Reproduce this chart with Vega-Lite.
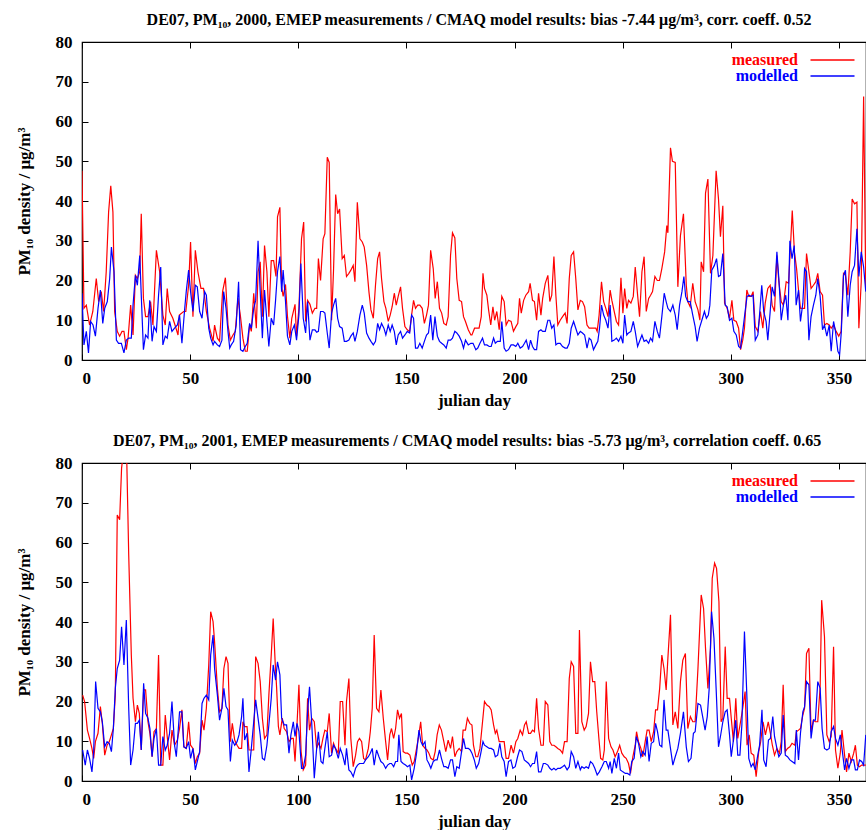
{
"$schema": "https://vega.github.io/schema/vega-lite/v6.json",
"padding": {"left": 14, "top": 11, "right": 0, "bottom": 0},
"spacing": 23,
"datasets": {
"m2000": [{"d":0,"v":47.6},{"d":0.9,"v":13},{"d":2,"v":13.8},{"d":3.5,"v":8.8},{"d":5,"v":12.2},{"d":6.6,"v":20.5},{"d":7.7,"v":14.7},{"d":8.9,"v":17.2},{"d":10,"v":12.2},{"d":11.2,"v":22.2},{"d":12.3,"v":37.2},{"d":13.3,"v":43.8},{"d":14.3,"v":37.2},{"d":15.1,"v":12.2},{"d":16.3,"v":7.2},{"d":17.4,"v":6},{"d":18.5,"v":7.2},{"d":19.4,"v":7.2},{"d":20.5,"v":2.6},{"d":21.3,"v":5.5},{"d":22.5,"v":13.8},{"d":23.6,"v":6.3},{"d":24.7,"v":21.3},{"d":25.6,"v":20.5},{"d":26.7,"v":22.2},{"d":27.4,"v":36.8},{"d":28.4,"v":15.5},{"d":29.4,"v":10.9},{"d":30.5,"v":10.9},{"d":31.7,"v":14.7},{"d":32.8,"v":8.8},{"d":34.4,"v":27.6},{"d":35.9,"v":22.2},{"d":37.4,"v":11.3},{"d":38.5,"v":8.8},{"d":39.4,"v":18},{"d":40.5,"v":12.2},{"d":42,"v":10.5},{"d":43,"v":8.8},{"d":44.4,"v":6.3},{"d":45,"v":11.3},{"d":47,"v":12.2},{"d":48,"v":12.2},{"d":49.3,"v":18.8},{"d":50.2,"v":29.7},{"d":51.3,"v":10.9},{"d":52.4,"v":27.6},{"d":53.6,"v":22.2},{"d":55,"v":18},{"d":56.2,"v":18},{"d":57.5,"v":12.2},{"d":59,"v":8},{"d":60.6,"v":4.7},{"d":61.3,"v":8.8},{"d":62.6,"v":5.5},{"d":63.6,"v":4.7},{"d":65,"v":17.2},{"d":66.3,"v":20.7},{"d":67.5,"v":8.8},{"d":68.6,"v":5},{"d":69.8,"v":6.3},{"d":70.9,"v":7.2},{"d":72.1,"v":15.5},{"d":73.2,"v":11.3},{"d":74.4,"v":5.5},{"d":75.5,"v":2.2},{"d":76.4,"v":2.2},{"d":77.5,"v":8.8},{"d":78.3,"v":7.2},{"d":79.4,"v":16.8},{"d":80.6,"v":8},{"d":81.4,"v":22.2},{"d":82.4,"v":24.7},{"d":83.4,"v":10.9},{"d":84.4,"v":28.8},{"d":85.5,"v":22.2},{"d":86.4,"v":10.9},{"d":87.5,"v":25},{"d":88.6,"v":25},{"d":89.7,"v":21},{"d":90.4,"v":36},{"d":91.5,"v":38.4},{"d":92.3,"v":18.4},{"d":93,"v":16},{"d":94.1,"v":19},{"d":95,"v":11},{"d":96.1,"v":5.5},{"d":97,"v":10.5},{"d":98.5,"v":14},{"d":99.2,"v":6},{"d":100.3,"v":13},{"d":101.5,"v":30.5},{"d":102.5,"v":34.7},{"d":103.4,"v":9.7},{"d":104.3,"v":15},{"d":105.4,"v":14},{"d":106.5,"v":11.8},{"d":107.7,"v":13},{"d":108.5,"v":13},{"d":109.3,"v":25.5},{"d":110.3,"v":20},{"d":111.5,"v":30.5},{"d":112.3,"v":31.8},{"d":113.4,"v":51},{"d":114.3,"v":49.7},{"d":115.4,"v":10},{"d":116.3,"v":22.6},{"d":117.3,"v":41.6},{"d":118.2,"v":36.8},{"d":119.1,"v":38},{"d":120.3,"v":25.5},{"d":121.3,"v":26.3},{"d":122.3,"v":21},{"d":123.4,"v":21.8},{"d":124.3,"v":22.6},{"d":125.4,"v":23.8},{"d":126.2,"v":19.7},{"d":127.3,"v":39.7},{"d":128.5,"v":30.5},{"d":129.6,"v":29.7},{"d":130.5,"v":28.4},{"d":131.6,"v":23.8},{"d":132.7,"v":17},{"d":133.6,"v":12.6},{"d":134.7,"v":10.5},{"d":135.7,"v":18.8},{"d":136.7,"v":25.5},{"d":137.6,"v":27.2},{"d":138.5,"v":20.5},{"d":139.6,"v":14.7},{"d":140.5,"v":13},{"d":141.6,"v":9.7},{"d":142.5,"v":11.3},{"d":143.4,"v":13.4},{"d":144.4,"v":16.8},{"d":145.3,"v":13.8},{"d":146.2,"v":16},{"d":147.3,"v":18.4},{"d":148.2,"v":13},{"d":149.3,"v":8.4},{"d":150.4,"v":7.6},{"d":151.5,"v":7.2},{"d":152.4,"v":11.3},{"d":153.3,"v":15},{"d":154.2,"v":13},{"d":155.2,"v":13.8},{"d":156.2,"v":13.8},{"d":157.3,"v":13},{"d":158.3,"v":9.2},{"d":159.3,"v":11.3},{"d":160.2,"v":13.8},{"d":161.2,"v":27.6},{"d":162.4,"v":23},{"d":163.3,"v":15.5},{"d":164.3,"v":19.7},{"d":165.3,"v":13},{"d":166.3,"v":11.8},{"d":167.3,"v":9.2},{"d":168.4,"v":8.8},{"d":169.3,"v":10.9},{"d":170.4,"v":26.3},{"d":171.3,"v":32},{"d":172.4,"v":30.7},{"d":173.3,"v":20.5},{"d":174.4,"v":15},{"d":175.5,"v":14.7},{"d":176.4,"v":10.9},{"d":177.3,"v":9.7},{"d":178.6,"v":7.6},{"d":179.8,"v":6.3},{"d":180.3,"v":6.3},{"d":181.5,"v":8},{"d":182.5,"v":8},{"d":183.6,"v":8},{"d":184.6,"v":10.9},{"d":185.4,"v":21.8},{"d":186.1,"v":18},{"d":187.2,"v":16.3},{"d":188,"v":12.6},{"d":189,"v":8.8},{"d":190,"v":13.4},{"d":190.8,"v":10},{"d":191.8,"v":12.2},{"d":192.9,"v":7.6},{"d":194.1,"v":16},{"d":195.2,"v":14.7},{"d":196.1,"v":8.8},{"d":197.2,"v":10},{"d":198.4,"v":9.7},{"d":199.5,"v":7.2},{"d":200.6,"v":8.4},{"d":201.5,"v":9.2},{"d":202.3,"v":15.5},{"d":203.1,"v":11.8},{"d":204.2,"v":15},{"d":205.2,"v":16.3},{"d":206.5,"v":17.2},{"d":207.2,"v":19.3},{"d":208.3,"v":15},{"d":209.2,"v":14.7},{"d":210.2,"v":10},{"d":211.1,"v":16.8},{"d":212.2,"v":11.3},{"d":213,"v":15.5},{"d":214.2,"v":19.3},{"d":215.4,"v":21.3},{"d":216.3,"v":14.7},{"d":217.2,"v":16.3},{"d":218.2,"v":26},{"d":219.1,"v":16.3},{"d":220,"v":8.8},{"d":221.1,"v":10},{"d":222.2,"v":10.9},{"d":223.4,"v":11.8},{"d":224.3,"v":9.2},{"d":225.3,"v":20.5},{"d":226.2,"v":26.3},{"d":227.3,"v":27.2},{"d":228.3,"v":20.5},{"d":229.3,"v":12.6},{"d":230.4,"v":15},{"d":231.4,"v":14.7},{"d":232.4,"v":13.4},{"d":233.5,"v":8.8},{"d":234.5,"v":8},{"d":235.4,"v":8},{"d":236.5,"v":8},{"d":237.6,"v":8},{"d":238.2,"v":7.2},{"d":239.1,"v":11.3},{"d":240.2,"v":19.7},{"d":241.2,"v":14.7},{"d":242.2,"v":13},{"d":243.2,"v":10.9},{"d":244.2,"v":17.6},{"d":245,"v":15},{"d":246.1,"v":12.2},{"d":247.1,"v":9.7},{"d":248.1,"v":8.8},{"d":249.2,"v":20.7},{"d":250.1,"v":11.8},{"d":250.9,"v":18},{"d":251.9,"v":13},{"d":252.7,"v":15},{"d":253.8,"v":14.3},{"d":254.9,"v":16},{"d":255.8,"v":23.4},{"d":256.9,"v":16.3},{"d":257.8,"v":10.9},{"d":258.9,"v":22.2},{"d":259.9,"v":26},{"d":260.9,"v":12.2},{"d":262,"v":15.5},{"d":262.9,"v":16.3},{"d":263.8,"v":17.2},{"d":264.9,"v":21},{"d":266,"v":20},{"d":267,"v":20},{"d":268.1,"v":23},{"d":269.4,"v":27.2},{"d":270.4,"v":33.8},{"d":270.9,"v":32},{"d":272.1,"v":53.4},{"d":273,"v":50},{"d":274.3,"v":49.7},{"d":275.5,"v":18.4},{"d":276.7,"v":31.3},{"d":278.1,"v":36.8},{"d":279.4,"v":18.8},{"d":280.1,"v":14.7},{"d":281.2,"v":13.4},{"d":282.4,"v":19.3},{"d":283.5,"v":14.7},{"d":284.8,"v":12.6},{"d":285.7,"v":10},{"d":286.3,"v":24.7},{"d":287.4,"v":22.2},{"d":288.3,"v":42},{"d":289.4,"v":45.5},{"d":290.6,"v":21.8},{"d":291.7,"v":26.3},{"d":293.2,"v":47.6},{"d":294.3,"v":40.5},{"d":295.2,"v":31},{"d":296.3,"v":38.8},{"d":297.1,"v":14.3},{"d":298.3,"v":13},{"d":299.4,"v":10.5},{"d":300.5,"v":15},{"d":301.4,"v":10},{"d":302.5,"v":9.7},{"d":303.6,"v":8},{"d":304.5,"v":2.6},{"d":305.5,"v":5},{"d":306.3,"v":8},{"d":307.4,"v":17.6},{"d":308.3,"v":16},{"d":309.4,"v":16},{"d":310.3,"v":17.2},{"d":311.3,"v":8.4},{"d":312.5,"v":7.2},{"d":313.7,"v":12.2},{"d":314.8,"v":8},{"d":315.9,"v":14.3},{"d":317.1,"v":18},{"d":318.2,"v":18.8},{"d":319.1,"v":13.8},{"d":320.2,"v":12.2},{"d":321.3,"v":26.3},{"d":322.2,"v":19.7},{"d":323.3,"v":14.7},{"d":324.3,"v":13.8},{"d":325.6,"v":19.7},{"d":326.7,"v":19.3},{"d":327.6,"v":28.8},{"d":328.4,"v":37.6},{"d":329.4,"v":27.2},{"d":330.4,"v":23},{"d":331.3,"v":17.6},{"d":332.2,"v":13},{"d":333.3,"v":13},{"d":334.1,"v":13},{"d":335,"v":26.8},{"d":336.1,"v":22.2},{"d":337.1,"v":18},{"d":338.2,"v":18.8},{"d":339.3,"v":19.7},{"d":340.2,"v":21.8},{"d":341.3,"v":17.2},{"d":342.4,"v":16.3},{"d":343.3,"v":8.8},{"d":344.4,"v":9.2},{"d":345.5,"v":8.8},{"d":346.4,"v":8},{"d":347.5,"v":8.8},{"d":348.7,"v":7.2},{"d":349.9,"v":6},{"d":351,"v":7.2},{"d":352.1,"v":21.8},{"d":353,"v":21.3},{"d":354.1,"v":16.3},{"d":355.2,"v":27.2},{"d":356.1,"v":40.5},{"d":357.2,"v":39.3},{"d":358.3,"v":39.7},{"d":359.2,"v":8},{"d":360.3,"v":19.7},{"d":361.4,"v":66.3},{"d":362.4,"v":18}],
"c2000": [{"d":0,"v":16.8},{"d":0.9,"v":3.8},{"d":2,"v":7.2},{"d":3,"v":1.8},{"d":4,"v":9.7},{"d":5.1,"v":8.8},{"d":6.2,"v":6},{"d":7.4,"v":13},{"d":8.5,"v":17.6},{"d":9.6,"v":9.2},{"d":10.5,"v":13},{"d":11.7,"v":14.7},{"d":12.8,"v":20.5},{"d":13.6,"v":28.4},{"d":14.8,"v":22.2},{"d":15.9,"v":5},{"d":16.9,"v":4.2},{"d":18.2,"v":4.2},{"d":19.4,"v":1.8},{"d":20.5,"v":5},{"d":21.6,"v":5.5},{"d":22.8,"v":5.5},{"d":23.6,"v":13.8},{"d":24.7,"v":21.3},{"d":25.6,"v":18.8},{"d":26.7,"v":26.3},{"d":27.4,"v":16.3},{"d":28.4,"v":2.6},{"d":29.4,"v":6.3},{"d":30.5,"v":5.5},{"d":31.3,"v":15},{"d":32.4,"v":4.7},{"d":33.3,"v":8.4},{"d":34.4,"v":7.2},{"d":35.4,"v":16.3},{"d":36.4,"v":23.4},{"d":37.4,"v":3.8},{"d":38.5,"v":6},{"d":39.4,"v":5.5},{"d":40.5,"v":9.7},{"d":41.6,"v":7.2},{"d":42.8,"v":8},{"d":44.1,"v":8.8},{"d":45.1,"v":11.3},{"d":46.2,"v":4.2},{"d":47.5,"v":13},{"d":48.2,"v":17.2},{"d":49.3,"v":22.6},{"d":50.2,"v":17.2},{"d":51.3,"v":12.2},{"d":52.4,"v":18.8},{"d":53.3,"v":18.4},{"d":54.4,"v":12.2},{"d":55.5,"v":10.5},{"d":56.7,"v":17.2},{"d":57.5,"v":16.3},{"d":58.6,"v":8},{"d":59.5,"v":5.5},{"d":60.6,"v":3.8},{"d":61.3,"v":4.7},{"d":62.6,"v":3.8},{"d":63.6,"v":3.4},{"d":64.7,"v":5},{"d":65.5,"v":17.2},{"d":66.6,"v":13},{"d":67.5,"v":7.2},{"d":68.3,"v":3},{"d":69,"v":3.8},{"d":70.1,"v":4.7},{"d":71.3,"v":8.8},{"d":72.4,"v":19.7},{"d":73.3,"v":2.6},{"d":74.4,"v":2.2},{"d":75.5,"v":3.4},{"d":76.4,"v":4.2},{"d":77.5,"v":9.2},{"d":78.3,"v":8},{"d":79.4,"v":13},{"d":80.3,"v":15},{"d":81.4,"v":30},{"d":82.4,"v":17.2},{"d":83.4,"v":5.5},{"d":84.4,"v":17.6},{"d":85.5,"v":9.7},{"d":86.4,"v":3.4},{"d":87.5,"v":10.5},{"d":88.6,"v":8.8},{"d":89.5,"v":15},{"d":90.4,"v":22.2},{"d":91.5,"v":26},{"d":92.3,"v":17.2},{"d":93,"v":22.6},{"d":94.1,"v":14.7},{"d":95,"v":6},{"d":96.1,"v":3.8},{"d":97,"v":7.2},{"d":98.2,"v":8.8},{"d":99.2,"v":5},{"d":100.3,"v":11.3},{"d":101.2,"v":24.3},{"d":102.3,"v":10.5},{"d":103.4,"v":6.8},{"d":104.3,"v":14.7},{"d":105.4,"v":5},{"d":106.5,"v":7.6},{"d":107.7,"v":7.6},{"d":108.5,"v":7},{"d":109.3,"v":7.2},{"d":110.3,"v":12.2},{"d":111.5,"v":12.2},{"d":112.3,"v":11.8},{"d":113.4,"v":6.8},{"d":114.3,"v":3},{"d":115.4,"v":11.8},{"d":116.3,"v":13.8},{"d":117.3,"v":15.5},{"d":118.2,"v":10.5},{"d":119.1,"v":8.4},{"d":120.3,"v":8},{"d":121.3,"v":4.7},{"d":122.3,"v":4.7},{"d":123.4,"v":5},{"d":124.3,"v":6},{"d":125.4,"v":6.8},{"d":126.2,"v":4.7},{"d":127.3,"v":7.2},{"d":128.5,"v":11.3},{"d":129.6,"v":13.8},{"d":130.5,"v":11.8},{"d":131.6,"v":6.8},{"d":132.7,"v":5.5},{"d":133.6,"v":4.7},{"d":134.7,"v":3.8},{"d":135.7,"v":4.7},{"d":136.7,"v":9.2},{"d":137.6,"v":7.6},{"d":138.5,"v":9.2},{"d":139.6,"v":8},{"d":140.5,"v":6.3},{"d":141.6,"v":8.8},{"d":142.5,"v":7.2},{"d":143.4,"v":8.8},{"d":144.4,"v":7.2},{"d":145.3,"v":3.8},{"d":146.2,"v":6.3},{"d":147.3,"v":7.2},{"d":148.2,"v":5.5},{"d":149.3,"v":6.3},{"d":150.4,"v":7.2},{"d":151.5,"v":6.8},{"d":152.4,"v":11.3},{"d":153.3,"v":10.5},{"d":154.2,"v":3},{"d":155.2,"v":3},{"d":156.2,"v":4.2},{"d":157.3,"v":3},{"d":158.3,"v":4.7},{"d":159.3,"v":6.3},{"d":160.2,"v":6.8},{"d":161.2,"v":11.3},{"d":162.2,"v":5},{"d":163.2,"v":10.9},{"d":164.3,"v":6},{"d":165.3,"v":4.7},{"d":166.3,"v":4.2},{"d":167.3,"v":3.8},{"d":168.4,"v":3},{"d":169.3,"v":5},{"d":170.4,"v":5},{"d":171.3,"v":5.5},{"d":172.4,"v":7.2},{"d":173.3,"v":6.8},{"d":174.4,"v":6},{"d":175.5,"v":4.7},{"d":176.4,"v":3},{"d":177.3,"v":5},{"d":178.6,"v":3.8},{"d":179.8,"v":4.2},{"d":180.8,"v":4.2},{"d":182.1,"v":2.6},{"d":183,"v":3},{"d":184,"v":4.2},{"d":185.2,"v":5.5},{"d":186.1,"v":3.8},{"d":187.2,"v":3.8},{"d":188.3,"v":3.4},{"d":189.2,"v":3.4},{"d":190.3,"v":5.5},{"d":191.1,"v":4.2},{"d":192.1,"v":4.7},{"d":193.4,"v":4.7},{"d":194.1,"v":9.7},{"d":195.2,"v":3},{"d":196.1,"v":2.2},{"d":197.2,"v":2.6},{"d":198.4,"v":3.8},{"d":199.5,"v":3.8},{"d":200.6,"v":3.4},{"d":201.5,"v":4.2},{"d":202.6,"v":3},{"d":203.7,"v":3.4},{"d":204.6,"v":4.2},{"d":205.4,"v":5},{"d":206.5,"v":2.6},{"d":207.4,"v":5},{"d":208.3,"v":3.4},{"d":209.2,"v":2.6},{"d":210.2,"v":2.6},{"d":211.1,"v":7.2},{"d":212.2,"v":7.6},{"d":213,"v":7.2},{"d":214.2,"v":7.2},{"d":215.4,"v":10},{"d":216.3,"v":10},{"d":217.2,"v":8},{"d":218.2,"v":8.8},{"d":219.1,"v":3.8},{"d":220,"v":4.2},{"d":221.1,"v":4.2},{"d":222.2,"v":3.4},{"d":223.4,"v":3},{"d":224.3,"v":3},{"d":225.3,"v":4.2},{"d":226.2,"v":8},{"d":227.3,"v":9.7},{"d":228.3,"v":8},{"d":229.3,"v":6.3},{"d":230.4,"v":7.2},{"d":231.4,"v":6.8},{"d":232.4,"v":6.3},{"d":233.5,"v":3},{"d":234.5,"v":5.5},{"d":235.4,"v":5},{"d":236.5,"v":2.6},{"d":237.6,"v":3.8},{"d":238.5,"v":4.7},{"d":239.3,"v":8},{"d":240.2,"v":13.8},{"d":241.2,"v":11.3},{"d":242.2,"v":10},{"d":243.2,"v":8},{"d":244.2,"v":13.8},{"d":245,"v":4.7},{"d":246.1,"v":5},{"d":247.1,"v":5.5},{"d":248.1,"v":4.7},{"d":249.2,"v":6},{"d":250.1,"v":4.2},{"d":250.9,"v":11.3},{"d":251.9,"v":6.3},{"d":252.7,"v":6.8},{"d":253.8,"v":7.2},{"d":254.9,"v":9.7},{"d":255.8,"v":7.2},{"d":256.9,"v":3.4},{"d":257.8,"v":4.7},{"d":258.9,"v":6.3},{"d":259.9,"v":4.7},{"d":260.9,"v":5},{"d":262,"v":4.2},{"d":262.9,"v":5.5},{"d":263.8,"v":4.7},{"d":264.9,"v":9.7},{"d":266,"v":7.2},{"d":267,"v":5.5},{"d":268.1,"v":10.9},{"d":269.2,"v":16.8},{"d":270.1,"v":14.7},{"d":270.9,"v":13},{"d":272.1,"v":12.2},{"d":273.2,"v":13.8},{"d":274.3,"v":11.3},{"d":275.2,"v":7.6},{"d":276.3,"v":13.8},{"d":277.4,"v":17.2},{"d":278.3,"v":21},{"d":279.1,"v":16},{"d":280.1,"v":14.7},{"d":281.2,"v":14.7},{"d":282.4,"v":11.3},{"d":283.5,"v":8.4},{"d":284.4,"v":4.7},{"d":285.5,"v":8},{"d":286.6,"v":10},{"d":287.8,"v":12.2},{"d":288.7,"v":10.5},{"d":289.6,"v":11.3},{"d":290.3,"v":13.8},{"d":291.2,"v":22.6},{"d":292.4,"v":23.8},{"d":293.4,"v":25.5},{"d":294.3,"v":21},{"d":295.2,"v":21.3},{"d":296.3,"v":26.8},{"d":297.4,"v":13.8},{"d":298.3,"v":13.4},{"d":299.4,"v":10},{"d":300.5,"v":10.5},{"d":301.4,"v":7.2},{"d":302.5,"v":6.3},{"d":303.6,"v":3.4},{"d":304.5,"v":3},{"d":305.5,"v":7.2},{"d":306.6,"v":12.2},{"d":307.5,"v":16},{"d":308.5,"v":16.3},{"d":309.4,"v":16},{"d":310.3,"v":16.3},{"d":311.3,"v":5},{"d":312.5,"v":6.3},{"d":313.4,"v":12.2},{"d":314.3,"v":18.8},{"d":315.2,"v":12.2},{"d":316.3,"v":9.7},{"d":317.1,"v":5},{"d":318.2,"v":12.2},{"d":319.1,"v":18.4},{"d":320.2,"v":16},{"d":321.3,"v":27.2},{"d":322.2,"v":20.5},{"d":323.3,"v":10},{"d":324.3,"v":13.8},{"d":325.4,"v":16.3},{"d":326.4,"v":10},{"d":327.3,"v":30},{"d":328.3,"v":25.5},{"d":329.3,"v":28.8},{"d":330.2,"v":13.8},{"d":331.3,"v":17.6},{"d":332.2,"v":9.7},{"d":333.3,"v":14.3},{"d":334.1,"v":23},{"d":335,"v":22.2},{"d":336.1,"v":5},{"d":337.1,"v":10.9},{"d":338.2,"v":13.8},{"d":339.3,"v":16.3},{"d":340.2,"v":20.5},{"d":341.3,"v":16},{"d":342.4,"v":7.6},{"d":343.3,"v":8.8},{"d":344.4,"v":6},{"d":345.5,"v":8.8},{"d":346.4,"v":2.2},{"d":347.5,"v":9.7},{"d":348.4,"v":7.2},{"d":349.5,"v":2.2},{"d":350.3,"v":1.3},{"d":351.1,"v":7.2},{"d":352.1,"v":21.3},{"d":353,"v":22.6},{"d":354.1,"v":10.9},{"d":355.2,"v":18.8},{"d":356.1,"v":22.2},{"d":357.2,"v":23.8},{"d":358.3,"v":33},{"d":359.2,"v":21},{"d":360.3,"v":27.2},{"d":361.4,"v":23.4},{"d":362.4,"v":17.2}],
"m2001": [{"d":0.3,"v":21.6},{"d":1.2,"v":20},{"d":2.5,"v":12.8},{"d":3.5,"v":10.7},{"d":4.6,"v":8.2},{"d":5.4,"v":5.7},{"d":6.2,"v":9.9},{"d":7.4,"v":12},{"d":8.5,"v":18.7},{"d":9.4,"v":14.5},{"d":10.5,"v":6.5},{"d":11.6,"v":9},{"d":12.6,"v":9.9},{"d":13.6,"v":11.6},{"d":14.5,"v":13.2},{"d":15.4,"v":21.6},{"d":16.3,"v":66.9},{"d":17.4,"v":65.7},{"d":18.3,"v":78.7},{"d":19.4,"v":84},{"d":20.5,"v":86},{"d":21.6,"v":56.9},{"d":22.8,"v":31.7},{"d":23.6,"v":20.8},{"d":24.7,"v":14.9},{"d":25.6,"v":19.1},{"d":26.5,"v":17},{"d":27.4,"v":7.8},{"d":28.5,"v":22.9},{"d":29.4,"v":22.9},{"d":30.5,"v":14.9},{"d":31.4,"v":12},{"d":32.4,"v":6.1},{"d":33.3,"v":12.4},{"d":34.4,"v":13.2},{"d":35.4,"v":31.7},{"d":36.4,"v":4},{"d":37.4,"v":4},{"d":38.5,"v":16.6},{"d":39.4,"v":11.2},{"d":40.5,"v":5.3},{"d":41.6,"v":12.8},{"d":42.8,"v":9},{"d":44.1,"v":10.3},{"d":45.1,"v":13.2},{"d":46.2,"v":17.9},{"d":47.1,"v":8.6},{"d":48.2,"v":8.2},{"d":49.3,"v":14.9},{"d":50.2,"v":9},{"d":51.3,"v":8.2},{"d":52.4,"v":4.4},{"d":53.3,"v":6.1},{"d":54.4,"v":7},{"d":55.5,"v":15.3},{"d":56.4,"v":12.8},{"d":57.5,"v":18.3},{"d":58.6,"v":29.2},{"d":59.5,"v":42.6},{"d":60.6,"v":40.1},{"d":61.3,"v":35},{"d":62.6,"v":23.3},{"d":63.6,"v":17.4},{"d":64.7,"v":18.3},{"d":65.6,"v":28.3},{"d":66.6,"v":31.3},{"d":67.5,"v":29.6},{"d":68.6,"v":9.9},{"d":69.5,"v":14.5},{"d":70.6,"v":10.3},{"d":71.7,"v":9},{"d":72.6,"v":8.2},{"d":73.8,"v":8.2},{"d":74.4,"v":14.9},{"d":75.2,"v":13.7},{"d":76.3,"v":13.7},{"d":77.2,"v":7.8},{"d":78.3,"v":7.8},{"d":79.4,"v":7.8},{"d":80.3,"v":31.3},{"d":81.4,"v":29.6},{"d":82.4,"v":25},{"d":83.4,"v":15.8},{"d":84.4,"v":10.7},{"d":85.5,"v":11.6},{"d":86.4,"v":21.6},{"d":87.5,"v":31.7},{"d":88.4,"v":40.9},{"d":89.3,"v":30},{"d":90,"v":23.3},{"d":90.8,"v":13.7},{"d":91.5,"v":11.6},{"d":92.6,"v":15.8},{"d":93.5,"v":13.2},{"d":94.6,"v":12.4},{"d":95.7,"v":9.9},{"d":96.9,"v":10.7},{"d":97.7,"v":10.7},{"d":98.5,"v":4.9},{"d":99.4,"v":14.1},{"d":100.3,"v":24.2},{"d":101.3,"v":7.4},{"d":102.3,"v":2.8},{"d":103.4,"v":4},{"d":104.3,"v":20.8},{"d":105.2,"v":12.8},{"d":106.2,"v":15.8},{"d":107.4,"v":14.9},{"d":108.5,"v":8.2},{"d":109.3,"v":9.5},{"d":110.5,"v":8.2},{"d":111.4,"v":10.7},{"d":112.3,"v":12.8},{"d":113.4,"v":12.4},{"d":114.3,"v":17},{"d":115.4,"v":7},{"d":116.3,"v":9.5},{"d":117.2,"v":8.2},{"d":118.5,"v":7},{"d":119.4,"v":20},{"d":120.5,"v":20},{"d":121.6,"v":9},{"d":122.3,"v":20},{"d":123.4,"v":25.8},{"d":124.3,"v":10.7},{"d":125.4,"v":3.6},{"d":126.5,"v":6.5},{"d":127.4,"v":9.9},{"d":128.3,"v":10.7},{"d":129.3,"v":9.9},{"d":130.2,"v":5.7},{"d":131.1,"v":5.3},{"d":132.4,"v":8.2},{"d":133.3,"v":12.4},{"d":134.2,"v":18.3},{"d":135.1,"v":36.7},{"d":136.2,"v":18.3},{"d":137.3,"v":17.4},{"d":138.2,"v":22.9},{"d":139.3,"v":15.8},{"d":140.4,"v":9.9},{"d":141.3,"v":5.3},{"d":142.3,"v":11.6},{"d":143.1,"v":13.2},{"d":144.1,"v":10.7},{"d":145,"v":13.2},{"d":145.9,"v":17.9},{"d":146.8,"v":15.8},{"d":147.7,"v":17},{"d":148.5,"v":7.4},{"d":149.6,"v":7},{"d":150.5,"v":7},{"d":151.6,"v":6.5},{"d":152.7,"v":4},{"d":153.6,"v":4.9},{"d":154.7,"v":8.2},{"d":155.5,"v":10.7},{"d":156.6,"v":14.9},{"d":157.5,"v":9},{"d":158.6,"v":8.2},{"d":159.5,"v":7.8},{"d":160.4,"v":7},{"d":161.3,"v":5.7},{"d":162.4,"v":5.3},{"d":163.3,"v":7.4},{"d":164.2,"v":11.6},{"d":165.2,"v":14.1},{"d":166.2,"v":12.8},{"d":167.3,"v":9.9},{"d":168.2,"v":7.4},{"d":169.3,"v":10.3},{"d":170.4,"v":8.2},{"d":171.3,"v":11.2},{"d":172.4,"v":6.1},{"d":173.3,"v":7.4},{"d":174.4,"v":8.2},{"d":175.5,"v":7.4},{"d":176.2,"v":12.8},{"d":177.3,"v":12.8},{"d":178.2,"v":15.8},{"d":179.3,"v":14.5},{"d":180.3,"v":14.1},{"d":181,"v":9},{"d":182.1,"v":6.1},{"d":183,"v":6.1},{"d":184,"v":8.2},{"d":185.2,"v":14.9},{"d":186.1,"v":20},{"d":187.2,"v":19.1},{"d":188.3,"v":18.7},{"d":189.2,"v":17.9},{"d":190.3,"v":14.1},{"d":191.1,"v":12},{"d":191.8,"v":12.8},{"d":192.9,"v":9.9},{"d":194.1,"v":9.9},{"d":195.2,"v":9.9},{"d":196.1,"v":5.7},{"d":197.2,"v":5.7},{"d":198.4,"v":9},{"d":199.5,"v":7},{"d":200.6,"v":9.9},{"d":201.5,"v":10.7},{"d":202.6,"v":12.8},{"d":203.7,"v":11.6},{"d":204.6,"v":14.1},{"d":205.4,"v":14.9},{"d":206.5,"v":12},{"d":207.4,"v":12},{"d":208.3,"v":12.8},{"d":209.2,"v":12.4},{"d":210.2,"v":20.8},{"d":211.1,"v":13.2},{"d":212.2,"v":9},{"d":213.3,"v":9},{"d":214.2,"v":20},{"d":215.4,"v":19.1},{"d":216.3,"v":9.9},{"d":217.2,"v":9},{"d":218.2,"v":9},{"d":219.1,"v":8.6},{"d":220,"v":8.2},{"d":221.1,"v":7.8},{"d":222.2,"v":7},{"d":223.1,"v":9.9},{"d":224.3,"v":9.9},{"d":225.3,"v":25.8},{"d":226.2,"v":30},{"d":227.3,"v":28.8},{"d":228.3,"v":12},{"d":229.3,"v":12},{"d":230,"v":38},{"d":231.1,"v":14.9},{"d":232.2,"v":12.8},{"d":233.1,"v":13.7},{"d":234.2,"v":17},{"d":235.1,"v":30},{"d":236.1,"v":25},{"d":237.1,"v":25},{"d":238,"v":17.4},{"d":239,"v":10.7},{"d":239.8,"v":5.7},{"d":240.8,"v":5.3},{"d":241.5,"v":7.8},{"d":242.4,"v":25},{"d":243.5,"v":10.7},{"d":244.6,"v":8.6},{"d":245.5,"v":7.8},{"d":246.5,"v":6.1},{"d":247.6,"v":7.4},{"d":248.6,"v":9},{"d":249.6,"v":7},{"d":250.7,"v":6.1},{"d":251.6,"v":5.7},{"d":252.7,"v":4.4},{"d":253.6,"v":1.9},{"d":254.7,"v":6.1},{"d":255.8,"v":9},{"d":256.4,"v":12.4},{"d":257.3,"v":9.9},{"d":258.4,"v":8.2},{"d":259.3,"v":6.1},{"d":260.4,"v":9.9},{"d":261.3,"v":12.8},{"d":262.2,"v":12.8},{"d":263.2,"v":9.9},{"d":264.3,"v":12.4},{"d":265.2,"v":17.9},{"d":266.1,"v":17.9},{"d":267.1,"v":23.3},{"d":268.1,"v":31.7},{"d":269.1,"v":28.3},{"d":270.1,"v":22.9},{"d":270.9,"v":30.9},{"d":272.1,"v":41.8},{"d":273.2,"v":14.1},{"d":274.3,"v":17.4},{"d":275.5,"v":13.2},{"d":276.7,"v":25},{"d":277.8,"v":30.4},{"d":279,"v":32.1},{"d":280.1,"v":13.2},{"d":281.3,"v":16.2},{"d":282.4,"v":14.9},{"d":283.5,"v":14.9},{"d":284.8,"v":28.3},{"d":286.3,"v":46.8},{"d":287.4,"v":43.4},{"d":288.3,"v":33.4},{"d":289.4,"v":23.3},{"d":290.6,"v":33.4},{"d":291.4,"v":51},{"d":292.5,"v":54.8},{"d":293.4,"v":53.5},{"d":294.5,"v":45.1},{"d":295.5,"v":14.9},{"d":296.3,"v":15.8},{"d":297.4,"v":33.8},{"d":298.3,"v":20.8},{"d":299.4,"v":20.8},{"d":300.2,"v":15.8},{"d":301.2,"v":9.9},{"d":302.3,"v":20.8},{"d":303.2,"v":10.7},{"d":304.5,"v":14.9},{"d":305.5,"v":18.3},{"d":306.6,"v":22.5},{"d":307.5,"v":9},{"d":308.5,"v":11.6},{"d":309.4,"v":7},{"d":310.6,"v":6.5},{"d":311.7,"v":1.1},{"d":312.9,"v":7.4},{"d":313.8,"v":9.9},{"d":314.9,"v":14.9},{"d":316,"v":11.6},{"d":317.3,"v":14.9},{"d":318.3,"v":12},{"d":319.2,"v":9},{"d":320.2,"v":6.5},{"d":321.3,"v":8.2},{"d":322.5,"v":7},{"d":323.3,"v":9.9},{"d":324.2,"v":24.2},{"d":325.2,"v":7.4},{"d":326.2,"v":8.2},{"d":327.3,"v":8.6},{"d":328.3,"v":9.5},{"d":329.6,"v":9},{"d":330.3,"v":12.4},{"d":331.3,"v":12.8},{"d":332.2,"v":13.2},{"d":333.3,"v":16.6},{"d":334.1,"v":18.3},{"d":335,"v":32.1},{"d":336.1,"v":33.4},{"d":337.1,"v":12.4},{"d":338.2,"v":15.3},{"d":339.1,"v":14.9},{"d":340.2,"v":14.9},{"d":341.3,"v":23.7},{"d":342,"v":45.5},{"d":343.3,"v":36.3},{"d":344.4,"v":11.6},{"d":345.5,"v":9.9},{"d":346.4,"v":11.2},{"d":347.5,"v":33.8},{"d":348.4,"v":7.8},{"d":349.5,"v":3.2},{"d":350.6,"v":7},{"d":351.4,"v":12.8},{"d":352.6,"v":6.5},{"d":353.5,"v":2.3},{"d":354.6,"v":7},{"d":355.7,"v":4.9},{"d":356.8,"v":7},{"d":357.6,"v":9},{"d":358.5,"v":4},{"d":359.5,"v":3.6},{"d":360.5,"v":4},{"d":361.8,"v":4},{"d":362.4,"v":4}],
"c2001": [{"d":0.3,"v":7.8},{"d":1.5,"v":4},{"d":2.5,"v":7.8},{"d":3.5,"v":5.7},{"d":4.6,"v":2.3},{"d":5.4,"v":7.4},{"d":6.3,"v":25},{"d":7.4,"v":18.3},{"d":8.5,"v":17.4},{"d":9.4,"v":14.9},{"d":10.5,"v":8.6},{"d":11.6,"v":9.9},{"d":12.6,"v":9.5},{"d":13.6,"v":7.4},{"d":14.5,"v":13.2},{"d":15.4,"v":23.3},{"d":16.3,"v":28.3},{"d":17.4,"v":30.4},{"d":18.3,"v":38.8},{"d":19.4,"v":29.2},{"d":20.5,"v":40.5},{"d":21.6,"v":18.3},{"d":22.5,"v":4},{"d":23.6,"v":7.8},{"d":24.7,"v":14.5},{"d":25.6,"v":14.5},{"d":26.5,"v":15.3},{"d":27.4,"v":7.8},{"d":28.5,"v":24.6},{"d":29.4,"v":17},{"d":30.5,"v":15.8},{"d":31.4,"v":13.2},{"d":32.4,"v":6.1},{"d":33.3,"v":10.7},{"d":34.4,"v":13.2},{"d":35.4,"v":4},{"d":36.4,"v":4},{"d":37.4,"v":11.2},{"d":38.5,"v":7.8},{"d":39.4,"v":9},{"d":40.5,"v":12},{"d":41.6,"v":20},{"d":42.8,"v":9},{"d":43.6,"v":6.1},{"d":44.4,"v":12},{"d":45.1,"v":17.4},{"d":46.2,"v":17.4},{"d":47.1,"v":8.6},{"d":48.2,"v":8.2},{"d":49.3,"v":9.9},{"d":50.2,"v":5.7},{"d":51.3,"v":8.2},{"d":52.4,"v":2.8},{"d":53.3,"v":4.9},{"d":54.4,"v":7.4},{"d":55.5,"v":19.5},{"d":56.4,"v":20.8},{"d":57.5,"v":21.6},{"d":58.6,"v":20.4},{"d":59.5,"v":31.7},{"d":60.6,"v":36.7},{"d":61.3,"v":28.3},{"d":62.6,"v":21.6},{"d":63.6,"v":15.3},{"d":64.7,"v":18.3},{"d":65.6,"v":23.3},{"d":66.6,"v":18.7},{"d":67.5,"v":17.9},{"d":68.6,"v":4.9},{"d":69.5,"v":10.3},{"d":70.6,"v":9},{"d":71.7,"v":9.9},{"d":72.6,"v":11.6},{"d":73.8,"v":16.2},{"d":74.4,"v":20.8},{"d":75.2,"v":10.3},{"d":76.3,"v":12},{"d":77.2,"v":2.3},{"d":78.3,"v":8.2},{"d":79.4,"v":14.9},{"d":80.3,"v":20.4},{"d":81.4,"v":15.8},{"d":82.4,"v":11.6},{"d":83.4,"v":5.7},{"d":84.4,"v":5.3},{"d":85.5,"v":9},{"d":86.4,"v":14.1},{"d":87.5,"v":20.8},{"d":88.4,"v":29.2},{"d":89.5,"v":25.4},{"d":90.4,"v":30},{"d":91.5,"v":26.7},{"d":92.3,"v":15.8},{"d":93.5,"v":14.1},{"d":94.6,"v":14.1},{"d":95.7,"v":7},{"d":96.6,"v":11.6},{"d":97.7,"v":14.9},{"d":98.5,"v":11.2},{"d":99.4,"v":14.5},{"d":100.3,"v":12.4},{"d":101.5,"v":3.2},{"d":102.3,"v":3.2},{"d":103.4,"v":6.5},{"d":104.3,"v":17.4},{"d":105.2,"v":23.7},{"d":106.2,"v":14.9},{"d":107.4,"v":0.7},{"d":108.5,"v":8.2},{"d":109.3,"v":12.4},{"d":110.5,"v":4.9},{"d":111.4,"v":4.4},{"d":112.3,"v":8.2},{"d":113.4,"v":12.4},{"d":114.3,"v":6.1},{"d":115.4,"v":6.5},{"d":116.3,"v":9},{"d":117.2,"v":8.2},{"d":118.5,"v":5.7},{"d":119.4,"v":8.2},{"d":120.5,"v":6.5},{"d":121.6,"v":4},{"d":122.3,"v":8.2},{"d":123.4,"v":2.8},{"d":124.3,"v":2.3},{"d":125.4,"v":1.1},{"d":126.5,"v":3.2},{"d":127.4,"v":4},{"d":128.3,"v":4.4},{"d":129.3,"v":4.4},{"d":130.2,"v":4.4},{"d":131.1,"v":5.3},{"d":132.4,"v":6.1},{"d":133.3,"v":7},{"d":134.2,"v":8.2},{"d":135.1,"v":4},{"d":136.2,"v":7.8},{"d":137.3,"v":6.1},{"d":138.2,"v":4.9},{"d":139.3,"v":4.4},{"d":140.4,"v":3.2},{"d":141.3,"v":4},{"d":142.3,"v":4.4},{"d":143.1,"v":4.4},{"d":144.1,"v":3.6},{"d":145,"v":4.9},{"d":145.9,"v":4.9},{"d":146.5,"v":11.6},{"d":147.5,"v":4.9},{"d":148.5,"v":4.4},{"d":149.6,"v":4},{"d":150.5,"v":3.6},{"d":151.6,"v":4},{"d":152.4,"v":0.3},{"d":153.6,"v":3.2},{"d":154.7,"v":7},{"d":155.8,"v":12.8},{"d":156.7,"v":9.9},{"d":157.5,"v":9},{"d":158.6,"v":9.9},{"d":159.5,"v":5.3},{"d":160.4,"v":4.4},{"d":161.3,"v":3.2},{"d":162.4,"v":4.9},{"d":163.3,"v":5.3},{"d":164.2,"v":5.3},{"d":165.3,"v":7.8},{"d":166.2,"v":5.7},{"d":167.3,"v":3.6},{"d":168.2,"v":3.6},{"d":169.3,"v":3.2},{"d":170.4,"v":5.3},{"d":171.3,"v":5.3},{"d":172.4,"v":1.1},{"d":173.3,"v":3.6},{"d":174.4,"v":3.2},{"d":175.5,"v":7.4},{"d":176.4,"v":10.7},{"d":177.3,"v":8.2},{"d":178.6,"v":8.2},{"d":179.5,"v":7.8},{"d":180.3,"v":7},{"d":181.4,"v":5.3},{"d":182.3,"v":3.2},{"d":183.4,"v":4.4},{"d":184.4,"v":7},{"d":185.4,"v":9.9},{"d":186.1,"v":9},{"d":187.2,"v":8.6},{"d":188.3,"v":8.2},{"d":189.2,"v":8.2},{"d":190.3,"v":7.8},{"d":191.1,"v":6.1},{"d":192.2,"v":6.5},{"d":193.2,"v":9.5},{"d":194.1,"v":6.1},{"d":195.2,"v":4.9},{"d":196.1,"v":1.1},{"d":197.2,"v":4.9},{"d":198.3,"v":5.3},{"d":199.2,"v":3.2},{"d":200.3,"v":3.6},{"d":201.4,"v":6.1},{"d":202.3,"v":7.8},{"d":203.4,"v":7.4},{"d":204.5,"v":5.3},{"d":205.4,"v":4.9},{"d":206.5,"v":4.4},{"d":207.4,"v":3.6},{"d":208.3,"v":4.4},{"d":209.2,"v":4.4},{"d":210.2,"v":7.4},{"d":211.1,"v":2.3},{"d":212.2,"v":2.3},{"d":213.3,"v":4.4},{"d":214.2,"v":4.4},{"d":215.4,"v":4},{"d":216.3,"v":3.2},{"d":217.2,"v":2.8},{"d":218.2,"v":3.2},{"d":219.1,"v":2.8},{"d":220,"v":3.2},{"d":221.1,"v":3.2},{"d":222.2,"v":3.6},{"d":223.1,"v":4},{"d":224.3,"v":2.8},{"d":225.3,"v":3.6},{"d":226.2,"v":7.4},{"d":227.3,"v":6.1},{"d":228.3,"v":3.2},{"d":229.3,"v":4.9},{"d":230.4,"v":2.8},{"d":231.1,"v":3.6},{"d":232.2,"v":3.2},{"d":233.1,"v":3.6},{"d":234.2,"v":3.2},{"d":235.1,"v":4.9},{"d":236.1,"v":4.4},{"d":237.1,"v":3.2},{"d":238.2,"v":1.5},{"d":239.2,"v":2.3},{"d":240.4,"v":3.6},{"d":241.5,"v":4.9},{"d":242.4,"v":4.9},{"d":243.5,"v":3.2},{"d":244.2,"v":4.9},{"d":245,"v":1.9},{"d":246.1,"v":5.7},{"d":247.1,"v":3.2},{"d":248.1,"v":7},{"d":248.9,"v":2.8},{"d":250.1,"v":2.3},{"d":251.2,"v":1.9},{"d":252.2,"v":1.9},{"d":253.3,"v":1.5},{"d":254.2,"v":4.9},{"d":255.3,"v":5.7},{"d":256.3,"v":11.2},{"d":257.3,"v":9.5},{"d":258.4,"v":6.1},{"d":259.3,"v":7.4},{"d":260.4,"v":6.5},{"d":261.3,"v":11.2},{"d":262.2,"v":4.9},{"d":263.2,"v":9.5},{"d":264.3,"v":9.9},{"d":265.2,"v":14.5},{"d":266.1,"v":12.4},{"d":267.1,"v":9},{"d":268.1,"v":8.6},{"d":269.1,"v":20.4},{"d":270.1,"v":12.8},{"d":270.9,"v":12.8},{"d":272.1,"v":8.2},{"d":273.2,"v":4},{"d":274.3,"v":6.1},{"d":275.5,"v":8.2},{"d":276.7,"v":12},{"d":278.1,"v":17.4},{"d":279.4,"v":8.6},{"d":280.4,"v":4.9},{"d":281.6,"v":5.7},{"d":282.7,"v":12},{"d":283.5,"v":12.4},{"d":284.8,"v":19.5},{"d":286,"v":19.1},{"d":287.1,"v":15.8},{"d":288.1,"v":12.8},{"d":289.1,"v":16.2},{"d":290,"v":23.3},{"d":291.1,"v":42.6},{"d":292.2,"v":35.9},{"d":293.2,"v":23.3},{"d":294.3,"v":8.6},{"d":295.2,"v":11.2},{"d":296.3,"v":14.9},{"d":297.4,"v":17.4},{"d":298.3,"v":17.9},{"d":299.4,"v":11.6},{"d":300.2,"v":6.1},{"d":301.2,"v":10.3},{"d":302.3,"v":15.3},{"d":303.2,"v":6.5},{"d":304.2,"v":6.5},{"d":305.1,"v":14.1},{"d":306.3,"v":37.6},{"d":307.4,"v":21.6},{"d":308.3,"v":5.7},{"d":309.4,"v":3.6},{"d":310.3,"v":4.4},{"d":311.3,"v":2.8},{"d":312.2,"v":5.7},{"d":313.3,"v":9},{"d":314.4,"v":17.9},{"d":315.2,"v":5.3},{"d":316.3,"v":3.6},{"d":317.4,"v":10.3},{"d":318.3,"v":10.7},{"d":319.4,"v":16.2},{"d":320.2,"v":11.2},{"d":321.3,"v":8.2},{"d":322.2,"v":6.1},{"d":323.3,"v":7},{"d":324.2,"v":16.6},{"d":325.2,"v":6.5},{"d":326.2,"v":6.1},{"d":327.3,"v":5.3},{"d":328.3,"v":4.9},{"d":329.6,"v":4.4},{"d":330.3,"v":12.8},{"d":331.3,"v":5.3},{"d":332.2,"v":12},{"d":333.3,"v":17.4},{"d":334.1,"v":18.7},{"d":335,"v":25},{"d":336.1,"v":24.2},{"d":337.1,"v":10.7},{"d":338.2,"v":15.3},{"d":339.1,"v":15.3},{"d":340.2,"v":25},{"d":341.3,"v":23.3},{"d":342.2,"v":13.2},{"d":343.3,"v":8.2},{"d":344.4,"v":7.8},{"d":345.5,"v":8.2},{"d":346.4,"v":12.4},{"d":347.5,"v":13.7},{"d":348.4,"v":10.7},{"d":349.5,"v":9},{"d":350.6,"v":11.6},{"d":351.4,"v":8.2},{"d":352.6,"v":2.8},{"d":353.5,"v":5.7},{"d":354.6,"v":3.2},{"d":355.7,"v":5.3},{"d":356.8,"v":5.3},{"d":357.6,"v":2.8},{"d":358.5,"v":2.8},{"d":359.5,"v":5.3},{"d":360.5,"v":4.9},{"d":361.4,"v":4},{"d":362.4,"v":11.6}]
},
"vconcat": [
{
"width": 784, "height": 318,
"title": {"text": "DE07, PM₁₀, 2000, EMEP measurements / CMAQ model results: bias -7.44 μg/m³, corr. coeff. 0.52", "frame": "group", "dx": 5},
"layer": [
{"data": {"name": "m2000"}, "mark": {"type": "line", "clip": true, "strokeWidth": 1.2},
 "encoding": {
  "x": {"field": "d", "type": "quantitative", "scale": {"domain": [0, 362.5], "nice": false, "zero": false}, "axis": {"orient": "bottom", "title": "julian day", "values": [0,50,100,150,200,250,300,350]}},
  "y": {"field": "v", "type": "quantitative", "scale": {"domain": [0, 80], "nice": false}, "axis": {"title": "PM₁₀ density / μg/m³", "values": [0,10,20,30,40,50,60,70,80], "tickCount": 9, "labelOverlap": false, "labelSeparation": 0, "labelBound": false}},
  "color": {"datum": "measured", "type": "nominal", "scale": {"domain": ["measured", "modelled"], "range": ["#ff0000", "#0000ff"]},
   "legend": {"orient": "none", "legendX": 742.5, "legendY": 10, "title": null, "symbolType": "M-4,0H4", "symbolSize": 121, "symbolStrokeWidth": 1.5, "labelAlign": "right", "labelOffset": -42.5, "labelFontSize": 16, "labelFont": "Liberation Serif", "labelFontWeight": "bold", "rowPadding": 0, "padding": 0,
    "encode": {"labels": {"update": {"fill": {"signal": "datum.value === 'measured' ? '#ff0000' : '#0000ff'"}}}}}}
 }},
{"data": {"name": "c2000"}, "mark": {"type": "line", "clip": true, "strokeWidth": 1.2},
 "encoding": {
  "x": {"field": "d", "type": "quantitative", "axis": {"orient": "top", "labels": false, "title": null, "values": [0,50,100,150,200,250,300,350]}},
  "y": {"field": "v", "type": "quantitative"},
  "color": {"datum": "modelled", "type": "nominal"}
 }}
],
"resolve": {"axis": {"x": "independent"}}
},
{
"width": 784, "height": 318,
"title": {"text": "DE07, PM₁₀, 2001, EMEP measurements / CMAQ model results: bias -5.73 μg/m³, correlation coeff. 0.65", "frame": "group", "dx": -7},
"layer": [
{"data": {"name": "m2001"}, "mark": {"type": "line", "clip": true, "strokeWidth": 1.2},
 "encoding": {
  "x": {"field": "d", "type": "quantitative", "scale": {"domain": [0, 362.5], "nice": false, "zero": false}, "axis": {"orient": "bottom", "title": "julian day", "values": [0,50,100,150,200,250,300,350]}},
  "y": {"field": "v", "type": "quantitative", "scale": {"domain": [0, 80], "nice": false}, "axis": {"title": "PM₁₀ density / μg/m³", "values": [0,10,20,30,40,50,60,70,80], "tickCount": 9, "labelOverlap": false, "labelSeparation": 0, "labelBound": false}},
  "color": {"datum": "measured", "type": "nominal", "scale": {"domain": ["measured", "modelled"], "range": ["#ff0000", "#0000ff"]},
   "legend": {"orient": "none", "legendX": 742.5, "legendY": 10, "title": null, "symbolType": "M-4,0H4", "symbolSize": 121, "symbolStrokeWidth": 1.5, "labelAlign": "right", "labelOffset": -42.5, "labelFontSize": 16, "labelFont": "Liberation Serif", "labelFontWeight": "bold", "rowPadding": 0, "padding": 0,
    "encode": {"labels": {"update": {"fill": {"signal": "datum.value === 'measured' ? '#ff0000' : '#0000ff'"}}}}}}
 }},
{"data": {"name": "c2001"}, "mark": {"type": "line", "clip": true, "strokeWidth": 1.2},
 "encoding": {
  "x": {"field": "d", "type": "quantitative", "axis": {"orient": "top", "labels": false, "title": null, "values": [0,50,100,150,200,250,300,350]}},
  "y": {"field": "v", "type": "quantitative"},
  "color": {"datum": "modelled", "type": "nominal"}
 }}
],
"resolve": {"axis": {"x": "independent"}}
}
],
"resolve": {"legend": {"color": "independent"}},
"config": {
 "font": "Liberation Serif",
 "view": {"stroke": "#000", "strokeWidth": 1.2},
 "axis": {"labelFont": "Liberation Serif", "labelFontSize": 17, "labelFontWeight": "bold", "labelColor": "#000", "labelOverlap": false, "titleFont": "Liberation Serif", "titleFontSize": 17, "titleFontWeight": "bold", "titleColor": "#000", "grid": false, "domain": false, "tickColor": "#000", "tickSize": -6, "tickWidth": 1},
 "axisY": {"labelPadding": 16, "titlePadding": 22},
 "axisX": {"labelPadding": 16, "titlePadding": 6},
 "title": {"font": "Liberation Serif", "fontSize": 16, "fontWeight": "bold", "color": "#000", "offset": 5, "anchor": "middle"}
}
}
